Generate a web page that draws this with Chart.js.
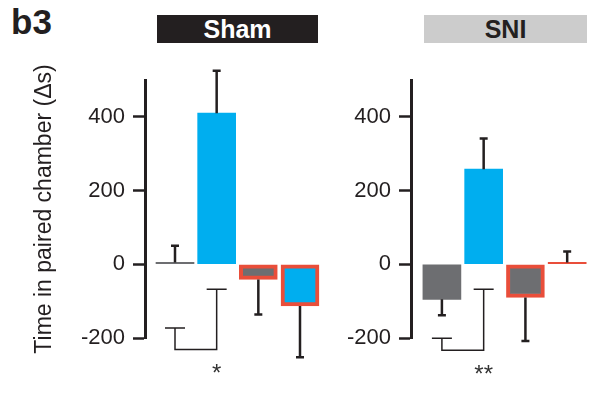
<!DOCTYPE html>
<html>
<head>
<meta charset="utf-8">
<script src="https://cdn.jsdelivr.net/npm/chart.js@4"></script>
<style>
  body { margin: 0; background: #fff; width: 596px; height: 394px; position: relative; overflow: hidden; font-family: "Liberation Sans", Arial, sans-serif; }
  canvas { position: absolute; top: 0; }
  #sham-chart { left: 0; }
  #sni-chart { left: 290px; }
  .panel-label { position: absolute; left: 11px; top: 2px; font-size: 35px; font-weight: bold; color: #231f20; }
  .group-box { position: absolute; top: 15px; height: 28px; line-height: 29px; text-align: center; font-size: 25px; font-weight: bold; }
  #sham-box { left: 157px; width: 161px; background: #231f20; color: #fff; }
  #sni-box { left: 424px; width: 163px; background: #cccccc; color: #231f20; }
</style>
</head>
<body>
<div class="panel-label">b3</div>
<div class="group-box" id="sham-box">Sham</div>
<div class="group-box" id="sni-box">SNI</div>
<canvas id="sham-chart" width="340" height="394"></canvas>
<canvas id="sni-chart" width="306" height="394"></canvas>
<script>
// valeurs (Δs)
const yTicks = [-200, 0, 200, 400];

const shamValues = [5, 410, -41, -113];
const shamErrEnds = [50, 525, -136, -252];   // extrémités des barres d'erreur
const shamBracket = [-173, -68, -231];       // cap gauche, cap droit, bas
const shamStars = '*';

const sniValues = [-95, 258, -90, 5];
const sniErrEnds = [-138, 341, -208, 35];
const sniBracket = [-201, -68, -233];
const sniStars = '**';

const BLUE = '#00aeef', GREY = '#6d6e71', RED = '#e94e3a', DARK = '#231f20';

const shamFill = [GREY, BLUE, GREY, BLUE];
const shamBorder = [0, 0, 4, 4];
const sniFill = [GREY, BLUE, GREY, RED];
const sniBorder = [0, 0, 4, 0];

const FONT = '"Liberation Sans", Arial, sans-serif';

// barres d'erreur + crochet de significativité
const extrasPlugin = {
    id: 'extras',
    afterDatasetsDraw(chart, args, opts) {
        const ctx = chart.ctx;
        const xs = chart.scales.x, ys = chart.scales.y;
        ctx.save();
        ctx.strokeStyle = DARK;

        // barres d'erreur
        ctx.lineWidth = 2.5;
        opts.values.forEach((v, i) => {
            const x = xs.getPixelForValue(i);
            const y0 = ys.getPixelForValue(v);
            const y1 = ys.getPixelForValue(opts.errEnds[i]);
            ctx.beginPath();
            ctx.moveTo(x, y0);
            ctx.lineTo(x, y1);
            ctx.moveTo(x - 4, y1);
            ctx.lineTo(x + 4, y1);
            ctx.stroke();
        });

        // crochet
        const xa = xs.getPixelForValue(0), xb = xs.getPixelForValue(1);
        const ya = ys.getPixelForValue(opts.bracket[0]);
        const yb = ys.getPixelForValue(opts.bracket[1]);
        const yBottom = ys.getPixelForValue(opts.bracket[2]);
        ctx.lineWidth = 1.5;
        ctx.beginPath();
        ctx.moveTo(xa - 10, ya); ctx.lineTo(xa + 10, ya);
        ctx.moveTo(xa, ya); ctx.lineTo(xa, yBottom); ctx.lineTo(xb, yBottom); ctx.lineTo(xb, yb);
        ctx.moveTo(xb - 10, yb); ctx.lineTo(xb + 10, yb);
        ctx.stroke();

        ctx.fillStyle = '#333';
        ctx.font = '24px ' + FONT;
        ctx.textAlign = 'center';
        ctx.textBaseline = 'alphabetic';
        ctx.fillText(opts.stars, xb, yBottom + 32);
        ctx.restore();
    }
};

function makeChart(id, values, fills, borders, errEnds, bracket, stars, yWidth, xMin, xMax, padRight, showTitle) {
    const ctx = document.getElementById(id).getContext('2d');
    return new Chart(ctx, {
        type: 'bar',
        data: {
            datasets: [{
                data: values.map((v, i) => ({ x: i, y: v })),
                backgroundColor: fills,
                borderColor: RED,
                borderWidth: borders,
                borderSkipped: false,
                barThickness: 38
            }]
        },
        options: {
            responsive: false,
            animation: false,
            devicePixelRatio: 1,
            layout: { padding: { top: 80, bottom: 56, left: 0, right: padRight } },
            plugins: {
                legend: { display: false },
                tooltip: { enabled: false },
                extras: { values: values, errEnds: errEnds, bracket: bracket, stars: stars }
            },
            scales: {
                x: { type: 'linear', min: xMin, max: xMax, offset: false, display: false },
                y: {
                    min: -200, max: 500,
                    afterBuildTicks: (scale) => { scale.ticks = yTicks.map(v => ({ value: v })); },
                    afterFit: (scale) => { scale.width = yWidth; },
                    border: { display: true, width: 3, color: DARK },
                    grid: { drawOnChartArea: false, drawTicks: true, tickLength: 12, tickWidth: 2.5, tickColor: DARK },
                    ticks: { color: DARK, padding: 8, font: { family: FONT, size: 22 } },
                    title: {
                        display: showTitle,
                        text: 'Time in paired chamber (Δs)',
                        color: DARK,
                        padding: { top: 31, bottom: 0 },
                        font: { family: FONT, size: 23 }
                    }
                }
            }
        },
        plugins: [extrasPlugin]
    });
}

makeChart('sham-chart', shamValues, shamFill, shamBorder, shamErrEnds, shamBracket, shamStars, 145, -0.72, 3.72, 10, true);
makeChart('sni-chart', sniValues, sniFill, sniBorder, sniErrEnds, sniBracket, sniStars, 121, -0.74, 3.69, 0, false);
</script>
</body>
</html>
